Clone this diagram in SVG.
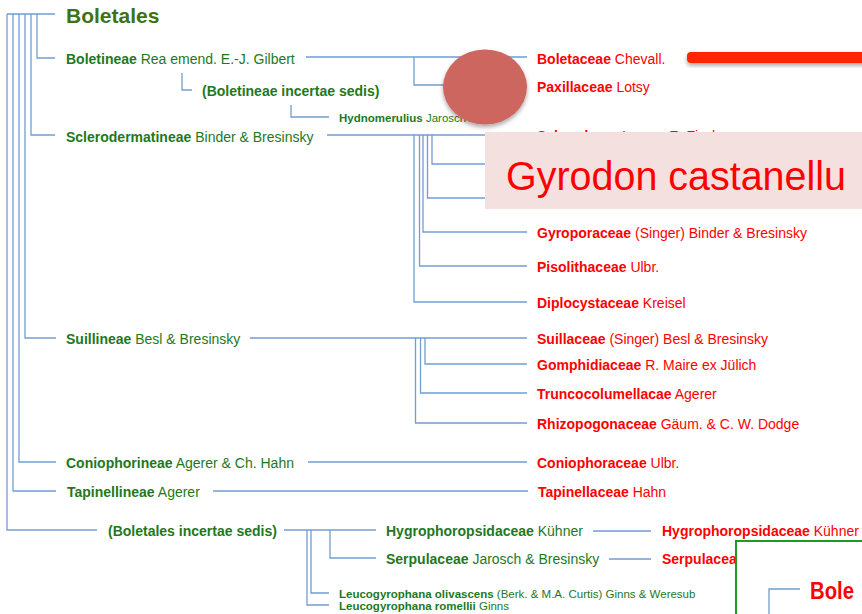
<svg xmlns="http://www.w3.org/2000/svg" width="862" height="614" viewBox="0 0 862 614">
<defs>
<style>
text{font-family:"Liberation Sans",Arial,sans-serif;font-size:14px}
.g{fill:#1e781e}
.r{fill:#ff0000}
.b{font-weight:bold}
.s{font-size:11.5px}
.ln{fill:none;stroke:#729dd2;stroke-width:1.3}
</style>
<filter id="sh" x="-20%" y="-20%" width="140%" height="160%">
<feDropShadow dx="0" dy="2.5" stdDeviation="2" flood-color="#000" flood-opacity="0.35"/>
</filter>
</defs>
<rect width="862" height="614" fill="#ffffff"/>
<g id="connectors">
<path class="ln" d="M7,14 H55 M7,14 V530 H97 M13,14 V491 H56 M19,14 V462 H56 M25,14 V338 H56 M31,14 V135 H55 M37,14 V58 H55"/>
<path class="ln" d="M306,57 H527 M414,57 V85 H527"/>
<path class="ln" d="M182,73 V90 H192"/>
<path class="ln" d="M291,105 V117 H329"/>
<path class="ln" d="M327,135 H527 M414,135 V302 H527 M419.5,135 V266 H527 M423,135 V232 H527 M427.5,135 V198 H527 M432,135 V164 H527"/>
<path class="ln" d="M250,338 H527 M415.5,338 V423 H527 M420.5,338 V393 H527 M425,338 V364 H527"/>
<path class="ln" d="M308,462 H527"/>
<path class="ln" d="M213,491 H528"/>
<path class="ln" d="M284,530 H376 M307,530 V605 H329 M311,530 V593 H329 M330,530 V558 H376"/>
<path class="ln" d="M593,531 H651 M609,559 H651"/>
</g>
<g id="n-boletales"><text x="66" y="23" class="b" style="font-size:21px;fill:#3d7314">Boletales</text></g>
<g id="n-boletineae"><text x="66" y="64" class="g"><tspan class="b">Boletineae</tspan> Rea emend. E.-J. Gilbert</text></g>
<g id="n-boletineae-is"><text x="202" y="96" class="g b">(Boletineae incertae sedis)</text></g>
<g id="n-hydnomerulius"><text x="339" y="122" class="g s"><tspan class="b">Hydnomerulius</tspan> Jarosch</text></g>
<g id="n-sclerodermatineae"><text x="66" y="142" class="g"><tspan class="b">Sclerodermatineae</tspan> Binder &amp; Bresinsky</text></g>
<g id="n-suillineae"><text x="66" y="344" class="g"><tspan class="b">Suillineae</tspan> Besl &amp; Bresinsky</text></g>
<g id="n-coniophorineae"><text x="66" y="468" class="g"><tspan class="b">Coniophorineae</tspan> Agerer &amp; Ch. Hahn</text></g>
<g id="n-tapinellineae"><text x="67" y="497" class="g"><tspan class="b">Tapinellineae</tspan> Agerer</text></g>
<g id="n-boletales-is"><text x="108" y="536" class="g b">(Boletales incertae sedis)</text></g>
<g id="n-hygro-g"><text x="386" y="536" class="g"><tspan class="b">Hygrophoropsidaceae</tspan> Kühner</text></g>
<g id="n-serpula-g"><text x="386" y="564" class="g"><tspan class="b">Serpulaceae</tspan> Jarosch &amp; Bresinsky</text></g>
<g id="n-leuco-oli"><text x="339" y="598" class="g s"><tspan class="b">Leucogyrophana olivascens</tspan> (Berk. &amp; M.A. Curtis) Ginns &amp; Weresub</text></g>
<g id="n-leuco-rom"><text x="339" y="610" class="g s"><tspan class="b">Leucogyrophana romellii</tspan> Ginns</text></g>
<g id="n-boletaceae"><text x="537" y="64" class="r"><tspan class="b">Boletaceae</tspan> Chevall.</text></g>
<g id="n-paxillaceae"><text x="537" y="92" class="r"><tspan class="b">Paxillaceae</tspan> Lotsy</text></g>
<g id="n-sclerodermataceae"><text x="537" y="141" class="r"><tspan class="b">Sclerodermataceae</tspan> E. Fisch.</text></g>
<g id="n-gyroporaceae"><text x="537" y="238" class="r"><tspan class="b">Gyroporaceae</tspan> (Singer) Binder &amp; Bresinsky</text></g>
<g id="n-pisolithaceae"><text x="537" y="272" class="r"><tspan class="b">Pisolithaceae</tspan> Ulbr.</text></g>
<g id="n-diplocystaceae"><text x="537" y="308" class="r"><tspan class="b">Diplocystaceae</tspan> Kreisel</text></g>
<g id="n-suillaceae"><text x="537" y="344" class="r"><tspan class="b">Suillaceae</tspan> (Singer) Besl &amp; Bresinsky</text></g>
<g id="n-gomphidiaceae"><text x="537" y="370" class="r"><tspan class="b">Gomphidiaceae</tspan> R. Maire ex Jülich</text></g>
<g id="n-truncocolumellacae"><text x="537" y="399" class="r"><tspan class="b">Truncocolumellacae</tspan> Agerer</text></g>
<g id="n-rhizopogonaceae"><text x="537" y="429" class="r"><tspan class="b">Rhizopogonaceae</tspan> Gäum. &amp; C. W. Dodge</text></g>
<g id="n-coniophoraceae"><text x="537" y="468" class="r"><tspan class="b">Coniophoraceae</tspan> Ulbr.</text></g>
<g id="n-tapinellaceae"><text x="538" y="497" class="r"><tspan class="b">Tapinellaceae</tspan> Hahn</text></g>
<g id="n-hygro-r"><text x="662" y="536" class="r"><tspan class="b">Hygrophoropsidaceae</tspan> Kühner</text></g>
<g id="n-serpula-r"><text x="662" y="564" class="r"><tspan class="b">Serpulaceae</tspan></text></g>
<g id="overlays">
<ellipse cx="485" cy="87" rx="42" ry="37.5" fill="#cc665e" filter="url(#sh)"/>
<rect x="485" y="132" width="377" height="77" fill="#f4e1df"/>
<text x="506" y="190" textLength="340" lengthAdjust="spacingAndGlyphs" style="font-size:40px;fill:#ff0000">Gyrodon castanellu</text>
<rect x="687" y="52" width="200" height="11" rx="4" fill="#ff2600" filter="url(#sh)"/>
<rect x="736" y="541" width="140" height="90" fill="#ffffff" stroke="#1e9a1e" stroke-width="2"/>
<path class="ln" d="M769,614 V589 H800"/>
<text x="810" y="599" class="b" textLength="44" lengthAdjust="spacingAndGlyphs" style="font-size:23px;fill:#ff0000">Bole</text>
</g>
</svg>
